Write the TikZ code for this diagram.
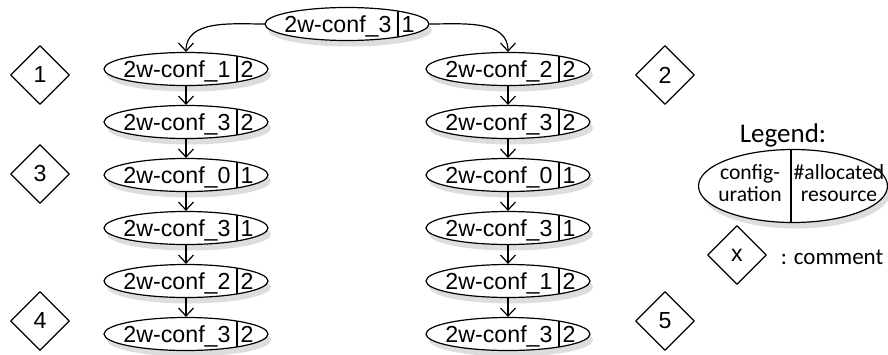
\documentclass[tikz,border=0pt]{standalone}
\usepackage{fontspec}
\setmainfont{Liberation Sans}
\newfontfamily\calibfont{Carlito}
\usetikzlibrary{shapes.geometric, shadows, arrows.meta}

% name and number of one configuration, side by side
\newcommand{\cfgtxt}[2]{\makebox[0pt]{\raisebox{-0.36em}[0pt][0pt]{\makebox[61pt]{#1}\makebox[9pt]{#2}}}}

\begin{document}
\begin{tikzpicture}[x=0.5pt, y=-0.5pt, line cap=round, line join=round,
    split/.style={path picture={\draw[line width=0.6pt]
      ([xshift=#1]path picture bounding box.north) -- ([xshift=#1]path picture bounding box.south);}},
    cfg/.style={ellipse, draw, fill=white, line width=0.6pt, inner sep=0pt,
      minimum width=82pt, minimum height=16.5pt, split=25.5pt,
      drop shadow={opacity=0.22, fill=black!60, shadow xshift=1.5pt, shadow yshift=-3pt},
      font=\fontsize{11.6}{14}\selectfont},
    note/.style={diamond, draw, aspect=1, inner sep=0pt, line width=0.6pt,
      minimum width=29.5pt, minimum height=29.5pt, font=\fontsize{11.6}{14}\selectfont},
    conn/.style={line width=0.6pt, -{Straight Barb[length=4pt, width=7.5pt]}}]
  \useasboundingbox (0,0) rectangle (888,354);
  % start configuration
  \node[cfg] (top) at (347,24) {\cfgtxt{2w-conf\_3}{1}};
  % left branch
  \foreach \nm/\nr [count=\i] in {1/2, 3/2, 0/1, 3/1, 2/2, 3/2}
    \node[cfg] (l\i) at (186,16+53*\i) {\cfgtxt{2w-conf\_\nm}{\nr}};
  % right branch
  \foreach \nm/\nr [count=\i] in {2/2, 3/2, 0/1, 3/1, 1/2, 3/2}
    \node[cfg] (r\i) at (508,16+53*\i) {\cfgtxt{2w-conf\_\nm}{\nr}};
  \draw[conn] (top.west) to[out=180, in=90] (l1.north);
  \draw[conn] (top.east) to[out=0, in=90] (r1.north);
  \foreach \i in {1,...,5} {
    \pgfmathtruncatemacro{\j}{\i+1}
    \draw[conn] (l\i.south) -- (l\j.north);
    \draw[conn] (r\i.south) -- (r\j.north);
  }
  % comments
  \node[note] (n1) at (40,75) {1};
  \node[note] (n2) at (665,75) {2};
  \node[note] (n3) at (40,174) {3};
  \node[note] (n4) at (40,321) {4};
  \node[note] (n5) at (665,321) {5};
  % legend
  \node[font=\calibfont\fontsize{13.5}{16}\selectfont] (legtitle) at (783,135) {Legend:};
  \node[cfg, minimum width=94.5pt, minimum height=36.5pt, split=-1pt,
    font=\calibfont\fontsize{10.8}{11}\selectfont] (legend) at (793,186)
    {\makebox[0pt]{\raisebox{-0.25em}[0pt][0pt]{%
      \makebox[46pt]{\begin{tabular}{@{}c@{}}config-\\uration\end{tabular}}%
      \makebox[43pt]{\begin{tabular}{@{}c@{}}\#allocated\\resource\end{tabular}}}}};
  \node[note] (legnote) at (737,255) {x};
  \node[font=\calibfont\fontsize{11.5}{14}\selectfont] (legcomment) at (832,257) {: comment};
\end{tikzpicture}
\end{document}
